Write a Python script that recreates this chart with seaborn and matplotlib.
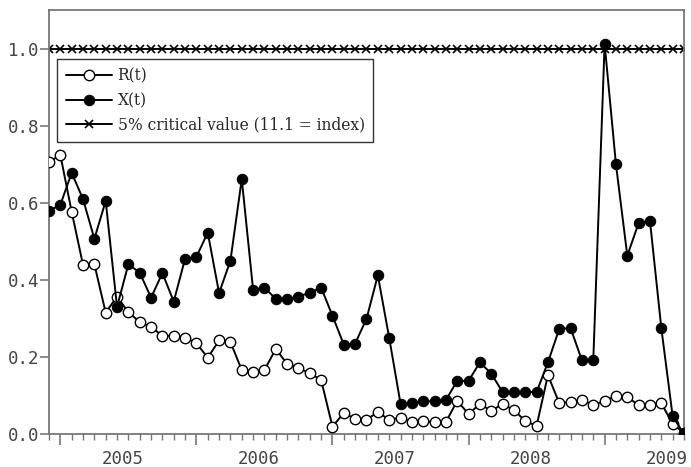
import numpy as np
import pandas as pd
import matplotlib
matplotlib.use("Agg")
import matplotlib.pyplot as plt
import matplotlib.transforms as mtransforms
import seaborn as sns

# ---- data (monthly, Dec 2004 .. Aug 2009) ----
r_t = [0.706, 0.725, 0.577, 0.439, 0.441, 0.315, 0.357, 0.316, 0.291, 0.278,
       0.255, 0.255, 0.250, 0.236, 0.198, 0.243, 0.239, 0.166, 0.162, 0.166,
       0.221, 0.182, 0.171, 0.158, 0.140, 0.019, 0.055, 0.039, 0.037, 0.057,
       0.037, 0.042, 0.031, 0.033, 0.031, 0.031, 0.086, 0.052, 0.078, 0.060,
       0.078, 0.062, 0.034, 0.021, 0.153, 0.080, 0.083, 0.088, 0.075, 0.086,
       0.099, 0.096, 0.075, 0.075, 0.080, 0.026, 0.003]
x_t = [0.579, 0.595, 0.678, 0.610, 0.507, 0.605, 0.330, 0.441, 0.419, 0.354,
       0.418, 0.344, 0.455, 0.460, 0.523, 0.366, 0.450, 0.662, 0.374, 0.380,
       0.351, 0.350, 0.357, 0.367, 0.380, 0.307, 0.232, 0.235, 0.299, 0.412,
       0.250, 0.079, 0.081, 0.085, 0.085, 0.088, 0.138, 0.138, 0.186, 0.157,
       0.109, 0.109, 0.109, 0.109, 0.186, 0.273, 0.275, 0.191, 0.192, 1.013,
       0.700, 0.463, 0.548, 0.553, 0.275, 0.046, 0.000]
crit = [1.0] * len(r_t)
year_labels = ["2005", "2006", "2007", "2008", "2009"]
year_start_idx = [1, 13, 25, 37, 49]
y_ticks = [0.0, 0.2, 0.4, 0.6, 0.8, 1.0]
legend_labels = ["R(t)", "X(t)", "5% critical value (11.1 = index)"]

idx = np.arange(len(r_t))
df = pd.DataFrame({"t": idx, "R": r_t, "X": x_t, "C": crit})

sns.set_style("white")
plt.rcParams["font.family"] = ["DejaVu Sans Mono"]

fig = plt.figure(figsize=(6.91, 4.67), dpi=100)
ax = fig.add_axes([49 / 691, 1 - 434 / 467, 635 / 691, 424 / 467])

sns.lineplot(data=df, x="t", y="C", ax=ax, color="black", lw=1.4,
             marker="x", markersize=5.5, markeredgewidth=1.2,
             markeredgecolor="black", label=legend_labels[2], zorder=2)
sns.lineplot(data=df, x="t", y="R", ax=ax, color="black", lw=1.4,
             marker="o", markersize=7.5, markerfacecolor="white",
             markeredgecolor="black", markeredgewidth=1.0,
             label=legend_labels[0], zorder=3)
sns.lineplot(data=df, x="t", y="X", ax=ax, color="black", lw=1.4,
             marker="o", markersize=7.5, markerfacecolor="black",
             markeredgecolor="black", label=legend_labels[1], zorder=4)

ax.set_xlim(0, len(r_t) - 1)
ax.set_ylim(0, 1.101)
ax.set_xlabel("")
ax.set_ylabel("")

ax.set_yticks(y_ticks)
ax.set_yticklabels([f"{v:.1f}" for v in y_ticks])
ax.set_xticks(year_start_idx)
ax.set_xticklabels([])
ax.set_xticks([i for i in idx if i not in year_start_idx], minor=True)

ax.tick_params(axis="y", which="major", direction="out", length=6.5,
               width=1.2, color="#777777", labelsize=12.5,
               labelcolor="#444444", pad=0.5, left=True)
ax.tick_params(axis="x", which="major", direction="out", length=8,
               width=1.2, color="#777777", bottom=True)
ax.tick_params(axis="x", which="minor", direction="out", length=4.5,
               width=1.0, color="#777777", bottom=True)

trans = mtransforms.blended_transform_factory(ax.transData, ax.transAxes)
for lab, s in zip(year_labels, year_start_idx):
    ax.text(s + 5.5, -0.071, lab, transform=trans, ha="center",
            va="baseline", fontsize=12.5, color="#444444",
            family="DejaVu Sans Mono")

for sp in ax.spines.values():
    sp.set_color("#777777")
    sp.set_linewidth(1.3)

handles, labels = ax.get_legend_handles_labels()
order = [labels.index(l) for l in legend_labels]
leg = ax.legend([handles[i] for i in order], [labels[i] for i in order],
                loc="upper left", bbox_to_anchor=(8 / 635, (434 - 59) / 424),
                borderaxespad=0, frameon=True, fancybox=False,
                prop={"family": "DejaVu Serif", "size": 11.2},
                handlelength=3.0, handletextpad=0.35, labelspacing=0.48,
                borderpad=0.55)
leg.get_frame().set_edgecolor("#333333")
leg.get_frame().set_linewidth(1.0)
leg.get_frame().set_alpha(1)

fig.savefig("out.png", dpi=100)
